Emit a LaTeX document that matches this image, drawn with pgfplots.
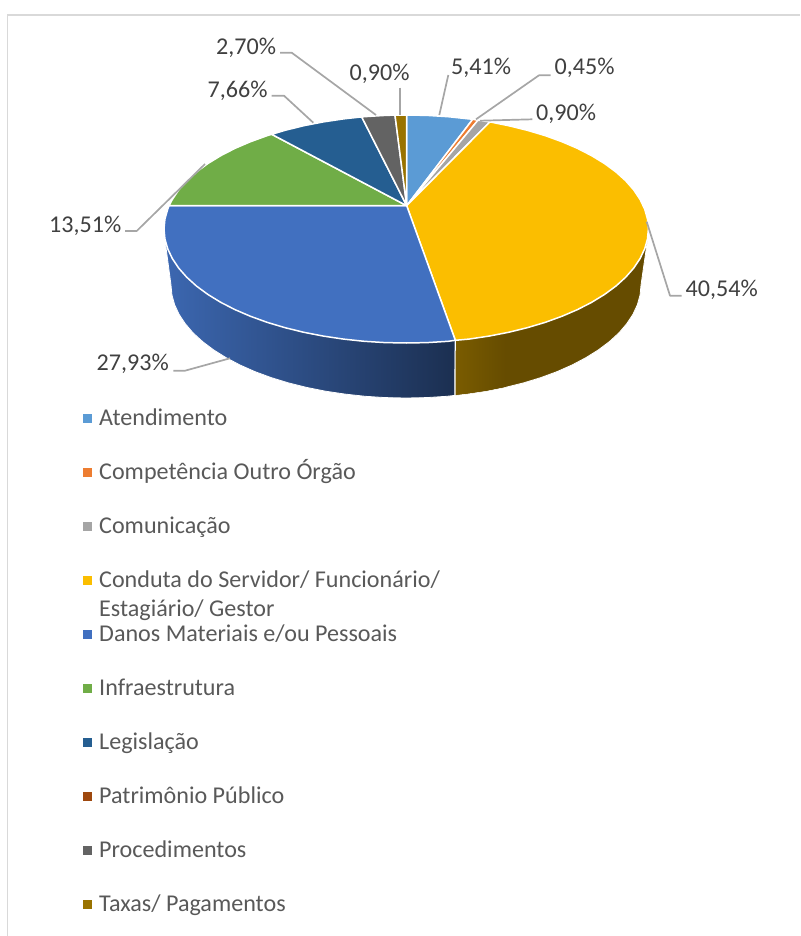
\documentclass[border=0pt]{standalone}
\usepackage{fontspec}
\setmainfont{Carlito}
\usepackage{pgfplots}
\pgfplotsset{compat=1.18}
\definecolor{cA}{HTML}{5B9BD5}
\definecolor{cB}{HTML}{ED7D31}
\definecolor{cC}{HTML}{A5A5A5}
\definecolor{cD}{HTML}{FBBE00}
\definecolor{cE}{HTML}{4170C0}
\definecolor{cF}{HTML}{70AD47}
\definecolor{cG}{HTML}{255E91}
\definecolor{cH}{HTML}{9E480E}
\definecolor{cI}{HTML}{636363}
\definecolor{cJ}{HTML}{997300}
\definecolor{lab}{HTML}{404040}
\definecolor{leg}{HTML}{595959}
\definecolor{lead}{HTML}{A6A6A6}
\definecolor{framec}{HTML}{D9D9D9}
\definecolor{sideY}{HTML}{664C00}
\definecolor{sideYl}{HTML}{7A5C00}
\tikzset{
  slice/.style={draw=white, line width=1.5pt, line join=round},
  leader/.style={draw=lead, line width=1.7pt, line join=round},
  lbl/.style={anchor=base west, inner sep=0pt, text=lab, font=\fontsize{24.1}{28}\selectfont},
  ent/.style={anchor=base west, inner sep=0pt, text=leg, font=\fontsize{24.1}{28}\selectfont},
}
\pgfplotsset{key/.style={only marks, mark=square*, mark size=4pt, mark options={draw=#1, fill=#1}}}
\begin{document}
\begin{tikzpicture}
\begin{axis}[
  hide axis, scale only axis, width=800pt, height=936pt,
  xmin=0, xmax=800, ymin=0, ymax=936, y dir=reverse,
  enlargelimits=false, clip=true,
]
\path[use as bounding box] (axis cs:0,0) rectangle (axis cs:800,936);
% frame
\addplot[draw=framec, line width=1.5pt] coordinates {(7.5,936) (7.5,15) (800,15)};
% sides
\addplot[left color=cE!92!black, middle color=cE!68!black, right color=cE!42!black, draw=white, line width=0.8pt, line join=round] coordinates {
(455.3,340) (165,240) (171,285) (171.9,294.8) (174.6,304.6) (179,314.2) (185.2,323.6) (193,332.8) (202.5,341.5) (213.5,349.8) (226,357.6) (239.8,364.9) (254.9,371.6) (271.2,377.6) (288.5,382.9) (306.7,387.4) (325.6,391.2) (345.2,394.1) (365.2,396.3) (385.5,397.6) (406,398) (426.5,397.6) (446.8,396.3) (455,395.4)} --cycle;
\addplot[fill=sideY, draw=white, line width=0.8pt, line join=round] coordinates {
(455.3,340) (647.5,240) (641,285) (640.1,294.8) (637.4,304.6) (633,314.2) (626.8,323.6) (619,332.8) (609.5,341.5) (598.5,349.8) (586,357.6) (572.2,364.9) (557.1,371.6) (540.8,377.6) (523.5,382.9) (505.3,387.4) (486.4,391.2) (466.8,394.1) (455,395.4)} --cycle;
\addplot[left color=sideYl, right color=sideY, draw=none] coordinates {
(455.3,340) (505,330) (505.3,387) (486.4,390.8) (466.8,393.7) (455,395)} --cycle;
\addplot[draw=white, line width=1pt] coordinates {(455.3,340) (455,395.4)};
% top faces
\addplot[slice, fill=cA] coordinates {(406.7,205.7) (406.7,115) (427.3,115.4) (448.2,116.7) (468.9,118.9) (472.7,119.3)} --cycle;
\addplot[slice, fill=cB] coordinates {(406.7,205.7) (472.7,119.3) (478,120.2)} --cycle;
\addplot[slice, fill=cC] coordinates {(406.7,205.7) (478,120.2) (489.9,121.9)} --cycle;
\addplot[slice, fill=cD] coordinates {(406.7,205.7) (489.9,121.9) (508.6,125.7) (527.3,130.3) (545.1,135.6) (561.9,141.7) (577.5,148.4) (591.7,155.7) (604.6,163.6) (616,172) (625.7,180.8) (633.8,190) (640.1,199.5) (644.7,209.2) (647.5,219.1) (648.4,229) (647.5,238.9) (644.7,248.8) (640.1,258.5) (633.8,268) (625.7,277.2) (616,286) (604.6,294.4) (591.7,302.3) (577.5,309.6) (561.9,316.3) (545.1,322.4) (527.3,327.7) (508.6,332.3) (489,336.1) (468.9,339.1) (455.3,340.3)} --cycle;
\addplot[slice, fill=cE] coordinates {(406.7,205.7) (455.3,340.3) (448.2,341.3) (427.3,342.6) (406.2,343) (385.1,342.6) (364.2,341.3) (343.5,339.1) (323.4,336.1) (303.8,332.3) (285.1,327.7) (267.3,322.4) (250.5,316.3) (234.9,309.6) (220.7,302.3) (207.8,294.4) (196.4,286) (186.7,277.2) (178.6,268) (172.3,258.5) (167.7,248.8) (164.9,238.9) (164,229) (164.9,219.1) (167.7,209.2) (169,205.7)} --cycle;
\addplot[slice, fill=cF] coordinates {(406.7,205.7) (169,205.7) (172.3,199.5) (178.6,190) (186.7,180.8) (196.4,172) (207.8,163.6) (220.7,155.7) (234.9,148.4) (250.5,141.7) (267.3,135.6) (271.7,134.3)} --cycle;
\addplot[slice, fill=cG] coordinates {(406.7,205.7) (271.7,134.3) (285.1,130.3) (303.8,125.7) (323.4,121.9) (343.5,118.9) (361.7,116.9)} --cycle;
\addplot[slice, fill=cI] coordinates {(406.7,205.7) (361.7,116.9) (364.2,116.7) (385.1,115.4) (395,115.1)} --cycle;
\addplot[slice, fill=cJ] coordinates {(406.7,205.7) (395,115.1) (406.7,115)} --cycle;
% leaders
\addplot[leader] coordinates {(448.3,75) (439.3,115)};
\addplot[leader] coordinates {(550.7,75.3) (539,75.3) (476,119.3)};
\addplot[leader] coordinates {(532.3,119.3) (480,120.7)};
\addplot[leader] coordinates {(400,87.7) (400,115)};
\addplot[leader] coordinates {(280,52.7) (291.7,52.7) (376,115)};
\addplot[leader] coordinates {(271.7,95.7) (284,95.7) (313.3,122.7)};
\addplot[leader] coordinates {(125,231) (136.7,231) (205,164)};
\addplot[leader] coordinates {(173.3,370.7) (185,370.7) (230,358.3)};
\addplot[leader] coordinates {(681.7,295.7) (670,295.7) (646.7,221.7)};
% data labels
\node[lbl] at (axis cs:451,75) {5,41\%};
\node[lbl] at (axis cs:554.5,75) {0,45\%};
\node[lbl] at (axis cs:536,121) {0,90\%};
\node[lbl] at (axis cs:349.5,81) {0,90\%};
\node[lbl] at (axis cs:216,55) {2,70\%};
\node[lbl] at (axis cs:207.5,97.5) {7,66\%};
\node[lbl] at (axis cs:49,232) {13,51\%};
\node[lbl] at (axis cs:96.5,370.5) {27,93\%};
\node[lbl] at (axis cs:685.5,296) {40,54\%};
% legend keys
\addplot[key=cA] coordinates {(86.7,418)};
\addplot[key=cB] coordinates {(86.7,472)};
\addplot[key=cC] coordinates {(86.7,526)};
\addplot[key=cD] coordinates {(86.7,580)};
\addplot[key=cE] coordinates {(86.7,634)};
\addplot[key=cF] coordinates {(86.7,688)};
\addplot[key=cG] coordinates {(86.7,742)};
\addplot[key=cH] coordinates {(86.7,796)};
\addplot[key=cI] coordinates {(86.7,850)};
\addplot[key=cJ] coordinates {(86.7,904)};
% legend text
\node[ent] at (axis cs:99,425) {Atendimento};
\node[ent] at (axis cs:99,479) {Competência Outro Órgão};
\node[ent] at (axis cs:99,533) {Comunicação};
\node[ent] at (axis cs:99,587.5) {Conduta do Servidor/ Funcionário/};
\node[ent] at (axis cs:99,616) {Estagiário/ Gestor};
\node[ent] at (axis cs:99,641) {Danos Materiais e/ou Pessoais};
\node[ent] at (axis cs:99,695) {Infraestrutura};
\node[ent] at (axis cs:99,749) {Legislação};
\node[ent] at (axis cs:99,803) {Patrimônio Público};
\node[ent] at (axis cs:99,857) {Procedimentos};
\node[ent] at (axis cs:99,911) {Taxas/ Pagamentos};
\end{axis}
\end{tikzpicture}
\end{document}
